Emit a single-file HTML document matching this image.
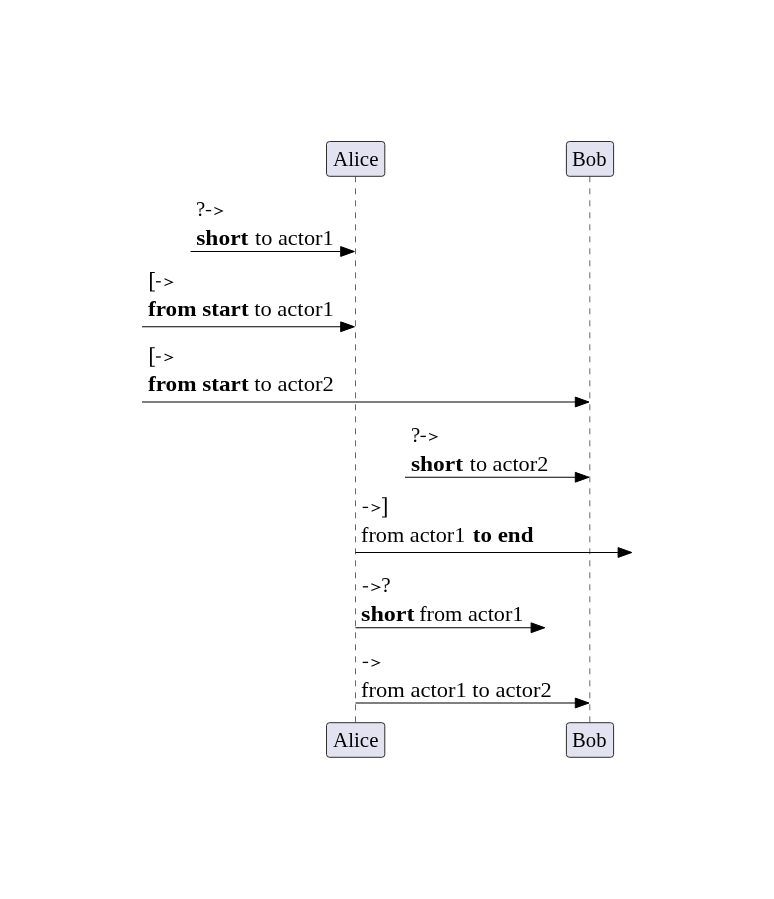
<!DOCTYPE html>
<html><head><meta charset="utf-8"><style>
html,body{margin:0;padding:0;background:#fff;}
body{width:774px;height:899px;overflow:hidden;}
svg{display:block;will-change:transform;}
text{font-family:"Liberation Serif",serif;fill:#000;white-space:pre;}
.ll{stroke:#181818;stroke-width:0.65;stroke-dasharray:6 6;}
.bx{fill:#E2E2F0;stroke:#181818;stroke-width:0.9;}
.ar{stroke:#000;stroke-width:1.2;}
.ah{fill:#000;stroke:#000;stroke-width:1;stroke-linejoin:round;}
.gl{fill:#000;}
.gt{fill:none;stroke:#000;stroke-width:1.05;}
</style></head><body>
<svg width="774" height="899" viewBox="0 0 774 899">
<line x1="355.5" y1="176.3" x2="355.5" y2="722.7" class="ll"/>
<line x1="589.8" y1="176.3" x2="589.8" y2="722.7" class="ll"/>
<rect x="326.5" y="141.5" width="58.30" height="34.80" rx="3" ry="3" class="bx"/>
<rect x="566.4" y="141.5" width="47.20" height="34.80" rx="3" ry="3" class="bx"/>
<rect x="326.5" y="722.7" width="58.30" height="34.60" rx="3" ry="3" class="bx"/>
<rect x="566.4" y="722.7" width="47.20" height="34.60" rx="3" ry="3" class="bx"/>
<line x1="190.5" y1="251.5" x2="341.6" y2="251.5" class="ar"/>
<polygon points="340.70,246.60 354.40,251.5 340.70,256.40" class="ah"/>
<line x1="142" y1="326.75" x2="341.6" y2="326.75" class="ar"/>
<polygon points="340.70,321.85 354.40,326.75 340.70,331.65" class="ah"/>
<line x1="142" y1="402.0" x2="576.2" y2="402.0" class="ar"/>
<polygon points="575.30,397.10 589.00,402.0 575.30,406.90" class="ah"/>
<line x1="405" y1="477.25" x2="576.2" y2="477.25" class="ar"/>
<polygon points="575.30,472.35 589.00,477.25 575.30,482.15" class="ah"/>
<line x1="355.5" y1="552.5" x2="619" y2="552.5" class="ar"/>
<polygon points="618.10,547.60 631.80,552.5 618.10,557.40" class="ah"/>
<line x1="355.5" y1="627.75" x2="532" y2="627.75" class="ar"/>
<polygon points="531.10,622.85 544.80,627.75 531.10,632.65" class="ah"/>
<line x1="355.5" y1="703.0" x2="576.2" y2="703.0" class="ar"/>
<polygon points="575.30,698.10 589.00,703.0 575.30,707.90" class="ah"/>
<text x="195.9" y="215.9" font-size="22" textLength="9.2" lengthAdjust="spacingAndGlyphs">?</text>
<rect x="205.8" y="209.95" width="5.40" height="1.3" class="gl"/>
<polyline points="214.4,207.60 222.3,211.00 214.4,214.40" class="gt"/>
<path d="M154.8,272.00 H150 V291.60 H154.8 V290.60 H151.80 V273.00 H154.8 Z" class="gl"/>
<rect x="155.9" y="281.15" width="4.90" height="1.3" class="gl"/>
<polyline points="164.5,278.80 172.4,282.20 164.5,285.60" class="gt"/>
<path d="M154.8,347.20 H150 V366.80 H154.8 V365.80 H151.80 V348.20 H154.8 Z" class="gl"/>
<rect x="155.9" y="356.35" width="4.90" height="1.3" class="gl"/>
<polyline points="164.5,354.00 172.4,357.40 164.5,360.80" class="gt"/>
<text x="411.0" y="441.7" font-size="22" textLength="9.2" lengthAdjust="spacingAndGlyphs">?</text>
<rect x="420.5" y="435.75" width="5.40" height="1.3" class="gl"/>
<polyline points="429.09999999999997,433.40 437.0,436.80 429.09999999999997,440.20" class="gt"/>
<rect x="362.7" y="506.75" width="5.40" height="1.3" class="gl"/>
<polyline points="371.59999999999997,504.40 379.5,507.80 371.59999999999997,511.20" class="gt"/>
<path d="M382,497.20 H386.7 V517.60 H382 V516.60 H384.90 V498.20 H382 Z" class="gl"/>
<rect x="362.75" y="586.15" width="5.35" height="1.3" class="gl"/>
<polyline points="371.29999999999995,583.80 379.7,587.20 371.29999999999995,590.60" class="gt"/>
<text x="381.2" y="592.1" font-size="22" textLength="9.4" lengthAdjust="spacingAndGlyphs">?</text>
<rect x="362.7" y="661.75" width="5.40" height="1.3" class="gl"/>
<polyline points="371.5,659.40 379.4,662.80 371.5,666.20" class="gt"/>
<text x="333.0" y="165.8" font-size="22" textLength="45.5" lengthAdjust="spacingAndGlyphs">Alice</text>
<text x="572.0" y="166" font-size="22" textLength="34.5" lengthAdjust="spacingAndGlyphs">Bob</text>
<text x="333.0" y="747.2" font-size="22" textLength="45.5" lengthAdjust="spacingAndGlyphs">Alice</text>
<text x="572.0" y="747.2" font-size="22" textLength="34.5" lengthAdjust="spacingAndGlyphs">Bob</text>
<text x="196.2" y="244.9" font-size="22" font-weight="bold" textLength="52.2" lengthAdjust="spacingAndGlyphs">short</text>
<text x="255.0" y="244.9" font-size="22" textLength="78.7" lengthAdjust="spacingAndGlyphs">to actor1</text>
<text x="148.0" y="316.2" font-size="22" font-weight="bold" textLength="100.6" lengthAdjust="spacingAndGlyphs">from start</text>
<text x="254.2" y="316.2" font-size="22" textLength="79.5" lengthAdjust="spacingAndGlyphs">to actor1</text>
<text x="148.0" y="391.4" font-size="22" font-weight="bold" textLength="100.6" lengthAdjust="spacingAndGlyphs">from start</text>
<text x="254.2" y="391.4" font-size="22" textLength="79.7" lengthAdjust="spacingAndGlyphs">to actor2</text>
<text x="410.9" y="470.75" font-size="22" font-weight="bold" textLength="52.2" lengthAdjust="spacingAndGlyphs">short</text>
<text x="469.7" y="470.75" font-size="22" textLength="78.6" lengthAdjust="spacingAndGlyphs">to actor2</text>
<text x="361.0" y="541.8" font-size="22" textLength="104.3" lengthAdjust="spacingAndGlyphs">from actor1</text>
<text x="472.8" y="541.8" font-size="22" font-weight="bold" textLength="60.6" lengthAdjust="spacingAndGlyphs">to end</text>
<text x="361.0" y="620.9" font-size="22" font-weight="bold" textLength="53.6" lengthAdjust="spacingAndGlyphs">short</text>
<text x="419.2" y="620.9" font-size="22" textLength="104.3" lengthAdjust="spacingAndGlyphs">from actor1</text>
<text x="361.0" y="696.8" font-size="22" textLength="190.7" lengthAdjust="spacingAndGlyphs">from actor1 to actor2</text>
</svg>
</body></html>
